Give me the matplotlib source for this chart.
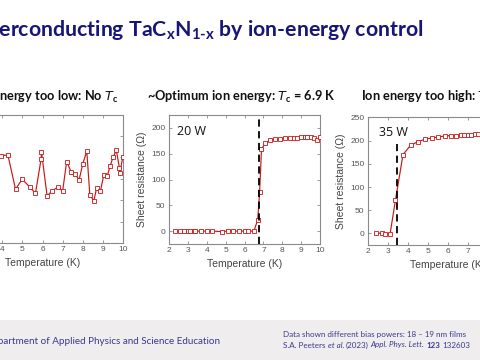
import matplotlib
matplotlib.use("Agg")
import matplotlib.pyplot as plt

# ---------------- data ----------------
# Left panel (ion energy too low) - arbitrary units (axis labels off-canvas)
T_low = [3.60, 3.92, 4.28, 4.66, 4.99, 5.36, 5.65, 5.93, 5.95, 6.23, 6.48, 6.76, 7.00,
         7.20, 7.42, 7.62, 7.82, 8.00, 8.20, 8.35, 8.55, 8.69, 8.88, 9.04, 9.21,
         9.37, 9.50, 9.67, 9.82, 9.84, 9.99]
R_low = [4.05, 4.08, 4.11, 2.51, 2.98, 2.62, 2.32, 3.92, 4.24, 2.20, 2.43, 2.61, 2.42,
         3.80, 3.33, 3.23, 2.95, 3.69, 4.30, 2.26, 1.96, 2.57, 2.43, 3.17, 3.11,
         3.61, 4.00, 4.32, 3.52, 3.27, 4.00]

# Middle panel (20 W)
T_mid = [2.3, 2.6, 2.8, 3.0, 3.1, 3.3, 3.4, 3.7, 4.0, 4.3, 4.8, 5.1, 5.4, 5.7, 6.0,
         6.2, 6.5, 6.7, 6.8, 6.9, 7.1, 7.35, 7.6, 7.9, 8.15, 8.4, 8.6, 8.8, 9.0,
         9.2, 9.3, 9.5, 9.7, 9.85, 10.0]
R_mid = [0, 0, 0, 0, 0, 0, 0, 0, 0, 0, -1, 0, 0, 0, 0,
         0, 0, 22, 75, 159, 170, 176, 178, 179, 180, 180, 181, 181, 182,
         183, 183, 182, 180, 177, 183]
Tc_mid = 6.78

# Right panel (35 W)
T_high = [2.42, 2.70, 2.87, 3.10, 3.37, 3.75, 4.13, 4.50, 4.85, 5.20, 5.50, 5.83,
          6.13, 6.38, 6.63, 6.80, 7.00, 7.17, 7.33, 7.50, 7.70]
R_high = [0, 1, -1, -2, 71, 170, 190, 198, 203, 206, 208, 210,
          211, 211, 213, 213, 213, 213, 214, 214, 214]
Tc_high = 3.47

RED = "#CC1515"
NAVY = "#16167A"
FOOT = "#3A3A8E"
TICKC = "#555555"

fig = plt.figure(figsize=(4.8, 3.6), dpi=100)
fig.patch.set_facecolor("white")

def px(x, y):
    return x / 480.0, 1 - y / 360.0

def make_ax(x0, x1, ytop, ybot):
    ax = fig.add_axes([x0 / 480.0, 1 - ybot / 360.0, (x1 - x0) / 480.0, (ybot - ytop) / 360.0])
    for s in ax.spines.values():
        s.set_color("#8a8a8a")
        s.set_linewidth(0.8)
    ax.tick_params(direction="in", top=True, right=True, length=2.5, width=0.6,
                   colors="#8a8a8a", labelcolor=TICKC, labelsize=6, pad=2.5)
    ax.set_xlim(2, 10)
    ax.set_xticks(range(2, 11))
    ax.set_xlabel("Temperature (K)", fontsize=7.5, color="#444444", labelpad=3,
                  family="Liberation Sans")
    for lab in ax.get_xticklabels() + ax.get_yticklabels():
        lab.set_family("Liberation Sans")
    return ax

def series(ax, x, y):
    ax.plot(x, y, color=RED, lw=0.85, marker="s", ms=2.2, mfc="white",
            mec=RED, mew=0.6, zorder=3)

# Left
axL = make_ax(-38, 123, 114.5, 243)
series(axL, T_low, R_low)
axL.set_ylim(0, 6)
axL.set_yticks(range(0, 7))
axL.set_yticklabels([])

# Middle
axM = make_ax(169, 320, 115, 244)
series(axM, T_mid, R_mid)
axM.set_ylim(-25, 225)
axM.set_yticks([0, 50, 100, 150, 200])
axM.axvline(Tc_mid, color="black", ls=(0, (4, 2.5)), lw=1.3, zorder=4)
axM.set_ylabel("Sheet resistance (\u03a9)", fontsize=7.5, color="#444444", labelpad=3,
               family="Liberation Sans")
axM.text(0.055, 0.925, "20 W", transform=axM.transAxes, fontsize=9, ha="left", va="top",
         family="Open Sans", color="#111111")

# Right
axR = make_ax(368, 528, 117.5, 245)
series(axR, T_high, R_high)
axR.set_ylim(-25, 250)
axR.set_yticks([0, 50, 100, 150, 200, 250])
axR.plot([Tc_high, Tc_high], [-25, 193], color="black", ls=(0, (4, 2.5)), lw=1.3, zorder=4)
axR.set_ylabel("Sheet resistance (\u03a9)", fontsize=7.5, color="#444444", labelpad=3,
               family="Liberation Sans")
axR.text(0.07, 0.935, "35 W", transform=axR.transAxes, fontsize=9, ha="left", va="top",
         family="Open Sans", color="#111111")

# Main title
fig.text(*px(424, 30), "Superconducting TaC$_\\mathregular{x}$N$_\\mathregular{1\u2010x}$ by ion-energy control",
         ha="right", va="center", fontsize=15.3, fontweight="bold", color=NAVY, family="Lato")

# Panel titles
fig.text(*px(118, 97), "Ion energy too low: No $\\mathit{T}_\\mathregular{c}$", ha="right", va="center",
         fontsize=9.2, fontweight="bold", color="#111111", family="Lato")
fig.text(*px(241, 97), "~Optimum ion energy: $\\mathit{T}_\\mathregular{c}$ = 6.9 K", ha="center", va="center",
         fontsize=9.2, fontweight="bold", color="#111111", family="Lato")
fig.text(*px(361, 97), "Ion energy too high: $\\mathit{T}_\\mathregular{c}$ = 3.5 K", ha="left", va="center",
         fontsize=9.2, fontweight="bold", color="#111111", family="Lato")

# Footer band
band = fig.add_axes([0, 0, 1, 40 / 360.0], zorder=-5)
band.set_facecolor("#EFEDED")
band.set_xticks([]); band.set_yticks([])
for s in band.spines.values():
    s.set_visible(False)

fig.text(*px(220, 341), "Department of Applied Physics and Science Education", ha="right", va="center",
         fontsize=7.1, color=FOOT, family="Lato")

# Reference lines (mixed styles)
FS = 5.8
fig.text(*px(283, 335), "Data shown different bias powers: 18 \u2013 19 nm films", ha="left", va="center",
         fontsize=FS, color=FOOT, family="Lato")
renderer = fig.canvas.get_renderer()

def width_px(s, **kw):
    t = fig.text(0, 0, s, fontsize=FS, family="Lato", **kw)
    w = t.get_window_extent(renderer=renderer).width
    t.remove()
    return w

space = width_px("a a") - width_px("aa")
pieces = [("S.A. Peeters", "normal", "normal"), ("et al.", "italic", "normal"),
          ("(2023)", "normal", "normal"), ("Appl. Phys. Lett.", "italic", "normal"),
          ("123", "normal", "bold"), ("132603", "normal", "normal")]
xcur = 283
for txt, style, weight in pieces:
    fig.text(*px(xcur, 345), txt, ha="left", va="center", fontsize=FS, color=FOOT,
             family="Lato", style=style, fontweight=weight)
    xcur += width_px(txt, style=style, fontweight=weight) + space

fig.savefig("out.png", dpi=100)
